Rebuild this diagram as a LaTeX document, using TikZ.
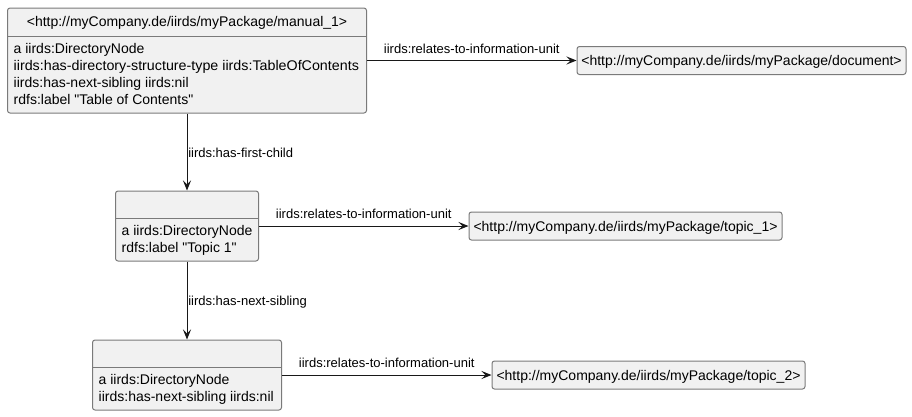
\documentclass[tikz,border=0pt]{standalone}
\usepackage{fontspec}
\setmainfont{Liberation Sans}[Ligatures=TeXOff]
\usetikzlibrary{arrows.meta}
\definecolor{boxfill}{HTML}{F1F1F1}
\definecolor{boxline}{HTML}{7A7A7A}
\definecolor{ink}{HTML}{181818}
\begin{document}
\begin{tikzpicture}[x=1pt,y=-1pt,
  box/.style={draw=boxline, fill=boxfill, rounded corners=2.5pt, line width=1pt, inner sep=0pt},
  sepline/.style={draw=boxline, line width=1pt},
  hdr/.style={inner sep=0pt, anchor=base, font=\fontsize{14pt}{17pt}\selectfont, text=black},
  attr/.style={inner sep=0pt, anchor=base west, font=\fontsize{14pt}{17pt}\selectfont, text=black},
  lbl/.style={inner sep=0pt, font=\fontsize{13pt}{15pt}\selectfont, text=black},
  conn/.style={draw=ink, line width=1pt, -{Stealth[length=10pt, width=8pt, inset=4pt]}}
]
\useasboundingbox (0,0) rectangle (912,416);

% ---- class box 1 ----
\node[box, minimum width=359pt, minimum height=105pt] (m1) at (187,60.5) {};
\draw[sepline] (m1.west |- 0,36) -- (m1.east |- 0,36);
\node[hdr] (m1h) at (187,26.7) {<http://myCompany.de/iirds/myPackage/manual\_1>};
\node[attr] (m1a) at (13.5,53.3) {a iirds:DirectoryNode};
\node[attr, xscale=1.02] (m1b) at (13.5,70.3) {iirds:has-directory-structure-type iirds:TableOfContents};
\node[attr] (m1c) at (13.5,87.3) {iirds:has-next-sibling iirds:nil};
\node[attr] (m1d) at (13.5,104.3) {rdfs:label "Table of Contents"};

% ---- class box 2 ----
\node[box, minimum width=143pt, minimum height=70pt] (n2) at (187,226) {};
\draw[sepline] (n2.west |- 0,218) -- (n2.east |- 0,218);
\node[attr] (n2a) at (121.5,235.3) {a iirds:DirectoryNode};
\node[attr] (n2b) at (121.5,252.3) {rdfs:label "Topic 1"};

% ---- class box 3 ----
\node[box, minimum width=189pt, minimum height=70pt] (n3) at (187,375) {};
\draw[sepline] (n3.west |- 0,367) -- (n3.east |- 0,367);
\node[attr] (n3a) at (98.5,384.3) {a iirds:DirectoryNode};
\node[attr] (n3b) at (98.5,401.3) {iirds:has-next-sibling iirds:nil};

% ---- simple boxes ----
\node[box, minimum width=329pt, minimum height=28pt] (doc) at (741.5,60.5) {};
\node[hdr] (doct) at (741.5,65.8) {<http://myCompany.de/iirds/myPackage/document>};
\node[box, minimum width=313pt, minimum height=28pt] (t1) at (625.5,226) {};
\node[hdr] (t1t) at (625.5,231.3) {<http://myCompany.de/iirds/myPackage/topic\_1>};
\node[box, minimum width=313pt, minimum height=28pt] (t2) at (648.5,375) {};
\node[hdr] (t2t) at (648.5,380.3) {<http://myCompany.de/iirds/myPackage/topic\_2>};

% ---- connectors ----
\draw[conn] (m1.east) -- node[lbl, anchor=base, yshift=7.2pt] (l1) {iirds:relates-to-information-unit} (doc.west);
\draw[conn] (n2.east) -- node[lbl, anchor=base, yshift=7.2pt] (l2) {iirds:relates-to-information-unit} (t1.west);
\draw[conn] (n3.east) -- node[lbl, anchor=base, yshift=7.2pt] (l3) {iirds:relates-to-information-unit} (t2.west);
\draw[conn] (m1.south) -- node[lbl, anchor=base west, xshift=0.8pt, yshift=-5pt] (l4) {iirds:has-first-child} (n2.north);
\draw[conn] (n2.south) -- node[lbl, anchor=base west, xshift=0.8pt, yshift=-5pt] (l5) {iirds:has-next-sibling} (n3.north);
\end{tikzpicture}
\end{document}
